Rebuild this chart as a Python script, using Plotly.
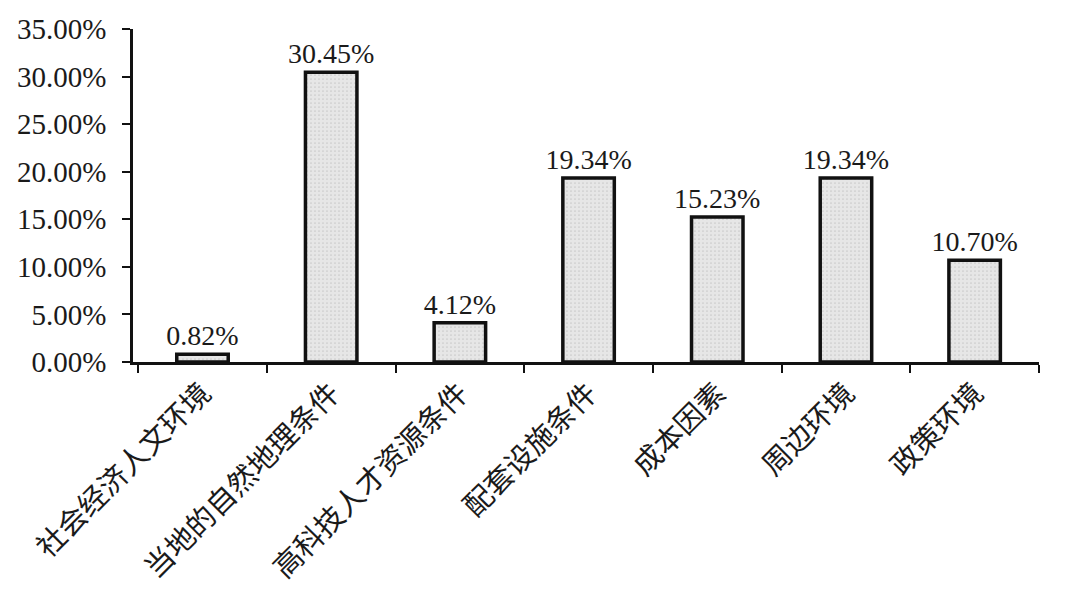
import plotly.graph_objects as go

categories = ["社会经济人文环境", "当地的自然地理条件", "高科技人才资源条件",
              "配套设施条件", "成本因素", "周边环境", "政策环境"]
values = [0.82, 30.45, 4.12, 19.34, 15.23, 19.34, 10.70]
y_ticks = [0, 5, 10, 15, 20, 25, 30, 35]

serif = "Liberation Serif, Times New Roman, serif"
cjk = "Noto Sans CJK SC"

fig = go.Figure(go.Bar(
    x=categories,
    y=values,
    width=0.4,
    marker=dict(
        color="#e4e4e4",
        line=dict(color="#111111", width=3.5),
        pattern=dict(shape=".", fgcolor="#adadad", bgcolor="#e6e6e6", size=4, solidity=0.15),
    ),
    texttemplate="%{y:.2f}%",
    textposition="outside",
    constraintext="none",
    textfont=dict(family=serif, size=28, color="#1a1a1a"),
    cliponaxis=False,
))

fig.update_layout(
    width=1077, height=609,
    margin=dict(l=125, r=46, t=21, b=255),
    paper_bgcolor="white", plot_bgcolor="white",
    showlegend=False,
    bargap=0.6,
    uniformtext=dict(mode=False),
)
fig.update_yaxes(
    range=[0, 35], tickvals=y_ticks,
    ticktext=[f"{v:.2f}%" for v in y_ticks],
    showgrid=False, zeroline=False, automargin=False,
    showline=True, linecolor="#111111", linewidth=2.5,
    ticks="outside", ticklen=8, tickwidth=2, tickcolor="#111111",
    ticklabelstandoff=10,
    tickfont=dict(family=serif, size=29, color="#1a1a1a"),
)
fig.update_xaxes(
    range=[-0.54, 6.5], automargin=False,
    showgrid=False, showline=True, linecolor="#111111", linewidth=2.5,
    ticks="outside", tickson="boundaries", ticklen=8, tickwidth=2, tickcolor="#111111",
    tickangle=-45,
    tickfont=dict(family=cjk, size=29, color="#1a1a1a"),
)

fig.write_html("out.html")
